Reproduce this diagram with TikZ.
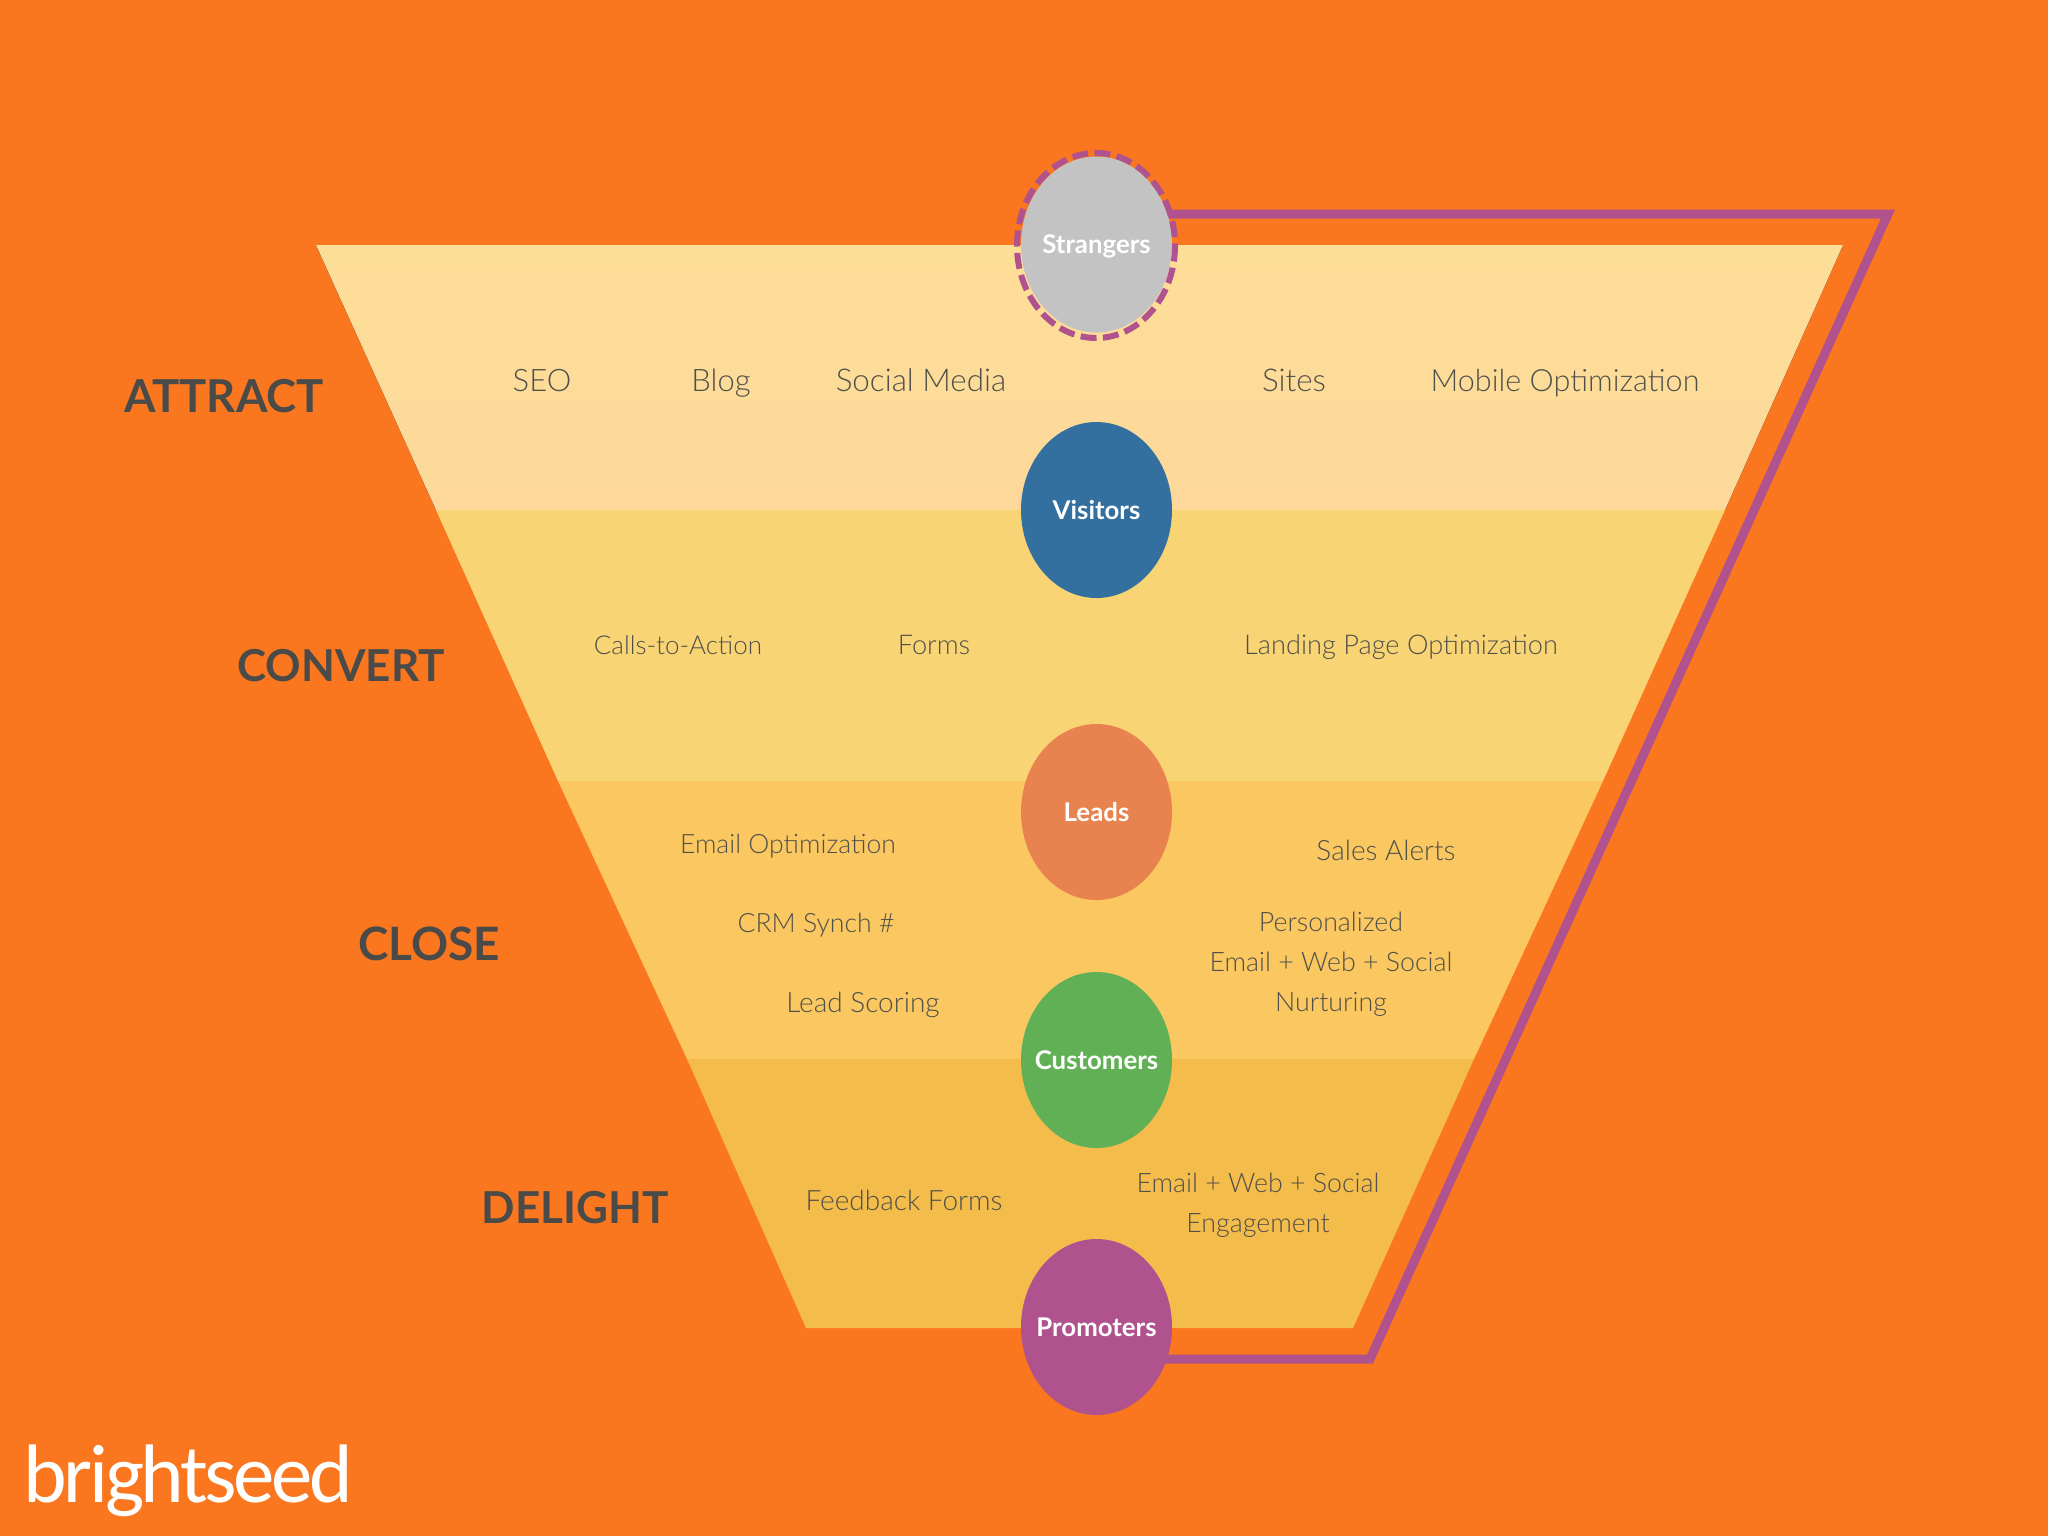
\documentclass[tikz,border=0pt]{standalone}
\usepackage{fontspec}
\usetikzlibrary{shapes.geometric,calc}
\setmainfont{Lato}
\newfontfamily\lightf{Lato Light}
\newfontfamily\headf{Lato}[BoldFont={Lato Bold}]
\newfontfamily\logof{Carlito}[LetterSpace=-4.0]
\definecolor{bgor}{HTML}{FA761F}
\definecolor{bandat}{HTML}{FDDE97}
\definecolor{bandab}{HTML}{FDD89A}
\definecolor{bandb}{HTML}{F9D475}
\definecolor{bandc}{HTML}{FAC760}
\definecolor{bandd}{HTML}{F4BC4B}
\definecolor{pur}{HTML}{B0528D}
\definecolor{gry}{HTML}{C3C3C3}
\definecolor{blu}{HTML}{34709F}
\definecolor{lead}{HTML}{E8834F}
\definecolor{grn}{HTML}{62B056}
\definecolor{ink}{HTML}{50504A}
\definecolor{headink}{HTML}{4A4A48}
\pgfdeclarelayer{bands}
\pgfdeclarelayer{conn}
\pgfsetlayers{bands,conn,main}
\newcommand{\itemsize}[1]{\fontsize{#1}{20}\selectfont}
\tikzset{
  stage/.style={ellipse,inner sep=-10pt,minimum width=75.5pt,minimum height=88pt,text=white,text height=9pt,text depth=0pt,font=\headf\bfseries\fontsize{12.9}{14}\selectfont},
  item/.style={text=ink,font=\lightf\fontsize{14}{20}\selectfont,inner sep=0pt,text height=10pt,text depth=0pt},
  itemblock/.style={text=ink,font=\lightf\fontsize{13.4}{20}\selectfont,inner sep=0pt,align=center},
  phase/.style={text=headink,font=\headf\bfseries\fontsize{22}{24}\selectfont,inner sep=0pt},
  ring/.style={draw=pur,line width=3pt,dash pattern=on 8pt off 3.2pt},
  link/.style={draw=pur,line width=4.5pt,miter limit=10},
}
\begin{document}
\begin{tikzpicture}[x=0.5pt,y=-0.5pt]
\useasboundingbox (0,0) rectangle (2048,1536);
\begin{pgfonlayer}{bands}
\fill[bgor] (0,0) rectangle (2048,1536);
\fill[top color=bandat,bottom color=bandab] (316,245) -- (1843,245) -- (1725,510) -- (436,510) -- cycle;
\fill[bandb] (436,510) -- (1725,510) -- (1603,781) -- (558,781) -- cycle;
\fill[bandc] (558,781) -- (1603,781) -- (1474,1059) -- (687,1059) -- cycle;
\fill[bandd] (687,1059) -- (1474,1059) -- (1353,1328) -- (806,1328) -- cycle;
\end{pgfonlayer}

\node[stage,fill=gry] (strangers) at (1096.5,244.5) {Strangers};
\node[stage,fill=blu] (visitors) at (1096.5,510) {Visitors};
\node[stage,fill=lead] (leads) at (1096.5,812) {Leads};
\node[stage,fill=grn] (customers) at (1096.5,1060) {Customers};
\node[stage,fill=pur] (promoters) at (1096.5,1327) {Promoters};
\draw[ring] (1096,245.5) ellipse [x radius=79,y radius=92.5];

\coordinate (ctop) at (1888,214);
\coordinate (cbot) at (1370,1359);
\begin{pgfonlayer}{conn}
\draw[link] (strangers.center |- ctop) -- (ctop) -- (cbot) -- (promoters.center |- cbot);
\end{pgfonlayer}

\node[item,font=\lightf\itemsize{15.5}] (seo) at (542,381) {SEO};
\node[item,font=\lightf\itemsize{15.5}] (blog) at (721,381) {Blog};
\node[item,font=\lightf\itemsize{15.7}] (social) at (921,381) {Social Media};
\node[item,font=\lightf\itemsize{15.7}] (sites) at (1294,381) {Sites};
\node[item,font=\lightf\itemsize{15.3}] (mobile) at (1565,381) {Mobile Optimization};
\node[item,font=\lightf\itemsize{13}] (cta) at (678,644) {Calls-to-Action};
\node[item,font=\lightf\itemsize{13.6}] (forms) at (934,644) {Forms};
\node[item,font=\lightf\itemsize{13.6}] (landing) at (1401,644) {Landing Page Optimization};
\node[item,font=\lightf\itemsize{13.3}] (emailopt) at (788,843) {Email Optimization};
\node[item] (sales) at (1386,850) {Sales Alerts};
\node[item,font=\lightf\itemsize{13.3}] (crm) at (816,922) {CRM Synch \#};
\node[item] (score) at (863,1002) {Lead Scoring};
\node[itemblock] (pers) at (1331,964) {Personalized\\Email + Web + Social\\Nurturing};
\node[item] (feedback) at (904,1200) {Feedback Forms};
\node[itemblock] (engage) at (1258,1205.5) {Email + Web + Social\\Engagement};

\node[phase,font=\headf\bfseries\fontsize{22.7}{24}\selectfont] (attract) at (224,396) {ATTRACT};
\node[phase] (convert) at (341,666) {CONVERT};
\node[phase,font=\headf\bfseries\fontsize{23}{24}\selectfont] (close) at (429,944) {CLOSE};
\node[phase] (delight) at (575,1208) {DELIGHT};

\node[anchor=base west,inner sep=0pt,text=white,font=\logof\fontsize{41.5}{44}\selectfont] (logo) at (23,1502) {brightseed};
\end{tikzpicture}
\end{document}
